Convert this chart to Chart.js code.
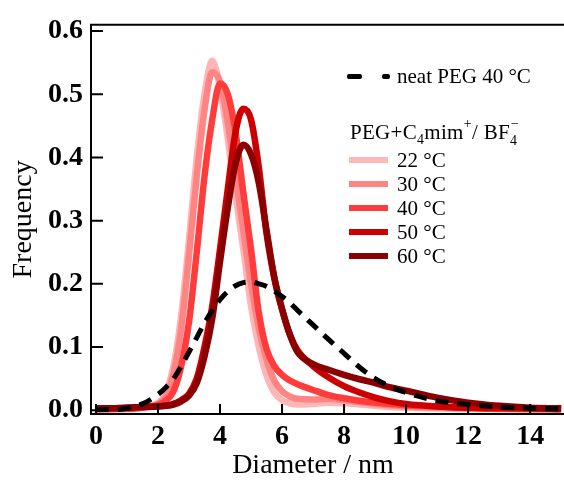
<!DOCTYPE html>
<html><head><meta charset="utf-8">
<script src="https://cdn.jsdelivr.net/npm/chart.js@4.4.1/dist/chart.umd.min.js"></script>
<style>
html,body{margin:0;padding:0;background:#fff;}
#wrap{position:relative;width:564px;height:481px;overflow:hidden;}
canvas{position:absolute;left:0;top:0;}
.lg{position:absolute;font-family:"Liberation Serif","Times New Roman",serif;font-size:21px;line-height:24px;color:#000;white-space:nowrap;}
.sw{position:absolute;height:6px;}
.dash{position:absolute;height:5px;background:#000;border-radius:2px;}
.stk{display:inline-block;position:relative;width:12px;height:10px;}
.stk .sb{position:absolute;left:0;top:5px;font-size:14px;line-height:14px;}
.stk .sp{position:absolute;left:1px;top:-12px;font-size:14px;line-height:14px;}
.sub{font-size:14px;position:relative;top:5px;}
.sup{font-size:14px;position:relative;top:-11px;}
</style></head><body>
<div id="wrap">
<canvas id="c" width="564" height="481"></canvas>
<div class="dash" style="left:347px;top:74px;width:15px;"></div>
<div class="dash" style="left:382px;top:74px;width:8px;"></div>
<div class="lg" style="left:397px;top:64px;">neat PEG 40 °C</div>
<div class="lg" style="left:350px;top:120px;letter-spacing:0.3px;">PEG+C<span class="sub">4</span>mim<span class="sup">+</span>/ BF<span class="stk"><span class="sb">4</span><span class="sp">−</span></span></div>
<div class="sw" style="left:349px;top:157px;width:39px;background:#ffb6b6;"></div>
<div class="lg" style="left:397px;top:148px;">22 °C</div>
<div class="sw" style="left:349px;top:181px;width:39px;background:#ff8585;"></div>
<div class="lg" style="left:397px;top:172px;">30 °C</div>
<div class="sw" style="left:349px;top:205px;width:39px;background:#ff3c3c;"></div>
<div class="lg" style="left:397px;top:196px;">40 °C</div>
<div class="sw" style="left:349px;top:229px;width:39px;background:#cc0000;"></div>
<div class="lg" style="left:397px;top:220px;">50 °C</div>
<div class="sw" style="left:349px;top:253px;width:39px;background:#8b0000;"></div>
<div class="lg" style="left:397px;top:244px;">60 °C</div>
</div>
<script>
const diameters = [0,0.5,1,1.5,2,2.25,2.5,2.75,3,3.25,3.5,3.75,4,4.25,4.5,4.75,5,5.25,5.5,5.75,6,6.25,6.5,7,7.5,8,8.5,9,9.5,10,11,12,13,14,15];
const freqNeatPEG40 = [0.001,0.001,0.003,0.01,0.025,0.036,0.05,0.07,0.092,0.115,0.138,0.158,0.175,0.188,0.197,0.202,0.203,0.2,0.196,0.189,0.18,0.17,0.158,0.135,0.112,0.09,0.068,0.05,0.037,0.028,0.015,0.009,0.005,0.003,0.002];
const freq22C = [0.002,0.002,0.003,0.005,0.011,0.028,0.07,0.15,0.27,0.40,0.50,0.553,0.51,0.43,0.34,0.255,0.165,0.1,0.055,0.028,0.016,0.011,0.009,0.01,0.012,0.011,0.009,0.007,0.005,0.004,0.003,0.002,0.002,0.001,0.001];
const freq30C = [0.002,0.002,0.003,0.005,0.01,0.022,0.058,0.13,0.245,0.37,0.475,0.535,0.52,0.455,0.37,0.285,0.2,0.13,0.08,0.047,0.03,0.022,0.018,0.017,0.018,0.016,0.013,0.01,0.008,0.006,0.004,0.003,0.002,0.002,0.001];
const freq40C = [0.001,0.002,0.002,0.004,0.008,0.015,0.03,0.07,0.14,0.25,0.37,0.46,0.517,0.5,0.44,0.345,0.255,0.155,0.097,0.07,0.056,0.047,0.041,0.032,0.024,0.019,0.015,0.012,0.01,0.008,0.006,0.004,0.003,0.002,0.002];
const freq50C = [0.003,0.003,0.004,0.005,0.006,0.007,0.01,0.016,0.026,0.05,0.1,0.165,0.255,0.35,0.44,0.477,0.46,0.385,0.28,0.21,0.16,0.12,0.095,0.07,0.052,0.038,0.028,0.02,0.014,0.01,0.006,0.004,0.003,0.003,0.002];
const freq60C = [0.003,0.003,0.004,0.005,0.006,0.007,0.009,0.014,0.023,0.043,0.085,0.145,0.235,0.32,0.39,0.42,0.405,0.36,0.285,0.21,0.16,0.12,0.092,0.073,0.064,0.056,0.049,0.043,0.036,0.031,0.02,0.012,0.007,0.004,0.003];
const seriesLabels = ['neat PEG 40 °C','60 °C','50 °C','40 °C','30 °C','22 °C'];
const seriesColors = ['#000000','#8b0000','#cc0000','#ff3c3c','#ff8585','#ffb6b6'];
const yTickValues = [0,0.1,0.2,0.3,0.4,0.5,0.6];
const xTickValues = [0,2,4,6,8,10,12,14];

const seriesValues = [freqNeatPEG40,freq60C,freq50C,freq40C,freq30C,freq22C];
const datasets = seriesValues.map((vals,i)=>({
  label: seriesLabels[i],
  data: diameters.map((d,j)=>({x:d,y:vals[j]})),
  borderColor: seriesColors[i],
  backgroundColor: seriesColors[i],
  borderWidth: i===0 ? 5 : 6.5,
  borderDash: i===0 ? [13,9] : [],
  borderCapStyle: 'butt',
  cubicInterpolationMode: 'monotone',
  pointRadius: 0,
  fill: false
}));

const framePlugin = {
  id:'frame',
  afterDatasetsDraw(chart){
    const {ctx, chartArea:a, scales:{x,y}} = chart;
    ctx.save();
    ctx.strokeStyle='#000'; ctx.lineWidth=2;
    ctx.beginPath();
    ctx.moveTo(a.left-1, a.top); ctx.lineTo(a.right+2, a.top);
    x.ticks.forEach(t=>{const p=x.getPixelForValue(t.value); ctx.moveTo(p,a.bottom); ctx.lineTo(p,a.bottom-10);});
    y.ticks.forEach(t=>{const p=y.getPixelForValue(t.value); ctx.moveTo(a.left,p); ctx.lineTo(a.left+12,p);});
    ctx.stroke();
    ctx.restore();
  }
};

const serif = '"Liberation Serif","Times New Roman",serif';
new Chart(document.getElementById('c'), {
  type:'line',
  data:{datasets},
  options:{
    responsive:false,
    animation:false,
    devicePixelRatio:1,
    layout:{padding:{left:0,right:1,top:17,bottom:0}},
    plugins:{legend:{display:false},tooltip:{enabled:false}},
    scales:{
      x:{
        type:'linear', min:-0.16, max:15.06,
        afterFit(s){ s.height = 67; },
        afterBuildTicks(s){ s.ticks = xTickValues.map(v=>({value:v})); },
        grid:{display:true,drawOnChartArea:false,drawTicks:false},
        border:{display:true,color:'#000',width:2},
        ticks:{color:'#000',padding:6,maxRotation:0,autoSkip:false,font:{family:serif,size:28,weight:'bold',lineHeight:1.2},callback:v=>String(v)},
        title:{display:true,text:'Diameter / nm\u00a0\u00a0\u00a0\u00a0',color:'#000',padding:{top:0,bottom:0},font:{family:serif,size:28,lineHeight:1.1}}
      },
      y:{
        type:'linear', min:-0.006, max:0.61,
        afterFit(s){ s.width = 91; },
        afterBuildTicks(s){ s.ticks = yTickValues.map(v=>({value:v})); },
        grid:{display:true,drawOnChartArea:false,drawTicks:false},
        border:{display:true,color:'#000',width:2},
        ticks:{color:'#000',padding:8,autoSkip:false,font:{family:serif,size:28,weight:'bold',lineHeight:1.2},callback:v=>Number(v).toFixed(1)},
        title:{display:true,text:'Frequency',color:'#000',padding:{top:7,bottom:0},font:{family:serif,size:28,lineHeight:1.2}}
      }
    }
  },
  plugins:[framePlugin]
});
</script>
</body></html>
